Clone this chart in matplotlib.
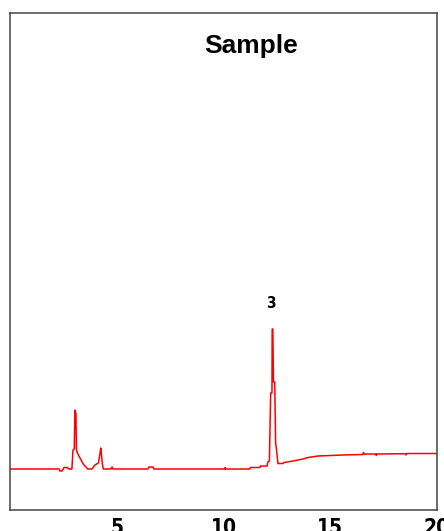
import matplotlib.pyplot as plt
from matplotlib import font_manager

# retention time (min) and detector signal
time = [0.0, 2.30, 2.34, 2.44, 2.53, 2.67, 2.76, 2.90, 2.95, 3.01, 3.04, 3.09, 3.11,
        3.18, 3.28, 3.43, 3.64, 3.84, 3.98, 4.14, 4.22, 4.25, 4.28, 4.32, 4.37,
        4.73, 4.78, 4.82, 6.46, 6.51, 6.70, 6.74, 10.07, 10.08, 10.10,
        11.24, 11.26, 11.71, 11.73, 12.04, 12.08, 12.15, 12.21, 12.27, 12.28,
        12.31, 12.34, 12.40, 12.44, 12.48, 12.55, 12.79, 12.83, 13.26, 13.72,
        13.96, 14.43, 15.60, 16.53, 16.56, 16.58, 17.14, 17.16, 17.18, 18.50,
        18.55, 18.58, 20.0]
signal = [0, 0, -2, -2, 1.5, 1.5, 0, 0, 19, 20, 59, 55, 19,
          15, 11, 5, 0, 0, 4, 6, 16, 21, 16, 6, 0,
          0, 2, 0, 0, 2, 2, 0, 0, 1.5, 0,
          0, 1.5, 1.5, 3, 3, 7, 8, 76, 76, 140,
          140, 87, 87, 26, 20, 5.5, 5.5, 6.5, 8, 10,
          11.5, 13, 14, 14.5, 16.5, 15, 15, 13.5, 15, 15.3,
          14, 15.5, 15.5]

peak_label = "3"
peak_time = 12.28
peak_height = 140
x_ticks = [5, 10, 15, 20]

# condensed font for the numbers if one is there
names = {f.name for f in font_manager.fontManager.ttflist}
narrow = "Liberation Sans Narrow" if "Liberation Sans Narrow" in names else "DejaVu Sans"
num_font = dict(family=[narrow, "DejaVu Sans"], fontweight="bold", fontstretch="condensed")

fig = plt.figure(figsize=(4.44, 5.31), dpi=100)
ax = fig.add_axes([10 / 444, 21 / 531, 427 / 444, 497 / 531])

ax.plot(time, signal, color="#ff0000", lw=1.1)

ax.set_xlim(0, 20)
ax.set_ylim(-41, 456)
ax.set_xticks(x_ticks)
ax.set_xticklabels([str(t) for t in x_ticks], fontsize=15, **num_font)
ax.tick_params(axis="x", length=0, pad=6)
ax.set_yticks([])
for s in ax.spines.values():
    s.set_color("#444444")
    s.set_linewidth(1.1)

ax.text(0.564, 0.919, "Sample", transform=ax.transAxes, ha="center", va="baseline",
        fontsize=19, fontweight="bold", family=["Liberation Sans", "DejaVu Sans"])

ax.annotate(peak_label, (peak_time, peak_height), xytext=(-1, 15),
            textcoords="offset points", ha="center", va="baseline",
            fontsize=11, **num_font)

fig.savefig("out.png", dpi=100)
